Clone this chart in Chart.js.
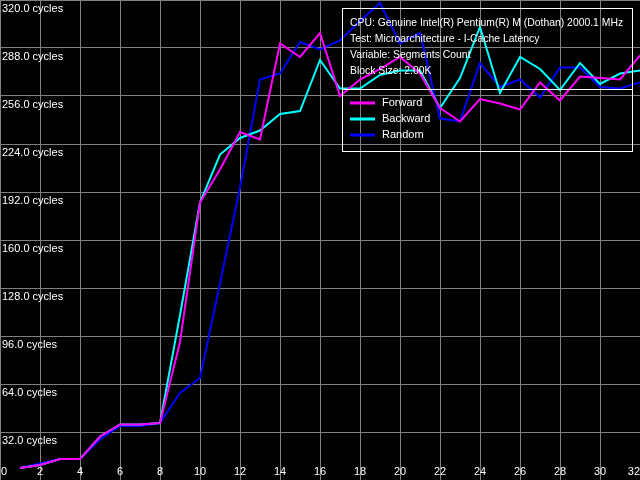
<!DOCTYPE html>
<html lang="en">
<head>
    <meta charset="UTF-8">
    <title>I-Cache Latency - Segments Count</title>
    <script src="https://cdn.jsdelivr.net/npm/chart.js"></script>
    <style>
        body {
            margin: 0;
            background-color: #000;
        }
        #chartBox {
            width: 640px;
            height: 480px;
        }
    </style>
</head>
<body>
    <div id="chartBox">
        <canvas id="latencyChart" width="640" height="480"></canvas>
    </div>

    <script>
        // segments count (x)
        const segments = [1, 2, 3, 4, 5, 6, 7, 8, 9, 10, 11, 12, 13, 14, 15, 16,
                          17, 18, 19, 20, 21, 22, 23, 24, 25, 26, 27, 28, 29, 30, 31, 32];

        // latency in cycles
        const forward = [8, 10, 14, 14, 29, 37, 37, 38, 92, 185, 207, 232, 227, 291, 282, 298,
                         256, 267, 274, 282, 271, 248, 239, 254, 251, 247, 265, 253, 269, 268, 267, 283];
        const backward = [8, 10, 14, 14, 29, 37, 37, 38, 110, 185, 217, 228, 233, 244, 246, 280,
                          261, 261, 270, 273, 273, 248, 268, 302, 258, 282, 274, 260, 278, 264, 271, 273];
        const random = [8, 11, 14, 14, 27, 36, 36, 38, 58, 68, 131, 195, 267, 271, 292, 287,
                        293, 306, 318, 291, 298, 241, 239, 278, 262, 267, 255, 275, 275, 262, 261, 265];

        const seriesNames = ['Forward', 'Backward', 'Random'];
        const seriesColors = ['#ff00ff', '#00ffff', '#0000ff'];

        const infoLines = [
            'CPU: Genuine Intel(R) Pentium(R) M (Dothan) 2000.1 MHz',
            'Test: Microarchitecture - I-Cache Latency',
            'Variable: Segments Count',
            'Block Size: 2.00K'
        ];

        const FAMILY = '"Liberation Sans", Arial, sans-serif';
        const FONT = '11px ' + FAMILY;

        function toPoints(values) {
            return values.map((v, i) => ({ x: segments[i], y: v }));
        }

        // x labels are drawn inside the plot, first one left, last one right
        const xLabelsPlugin = {
            id: 'xLabels',
            afterDraw(chart) {
                const ctx = chart.ctx;
                const xScale = chart.scales.x;
                const ticks = xScale.ticks;
                ctx.save();
                ctx.font = FONT;
                ctx.fillStyle = '#fff';
                ctx.textBaseline = 'middle';
                ticks.forEach((t, i) => {
                    const px = xScale.getPixelForValue(t.value);
                    if (i === 0) {
                        ctx.textAlign = 'left';
                        ctx.fillText(String(t.value), px + 1, 472);
                    } else if (i === ticks.length - 1) {
                        ctx.textAlign = 'right';
                        ctx.fillText(String(t.value), px, 472);
                    } else {
                        ctx.textAlign = 'center';
                        ctx.fillText(String(t.value), px, 472);
                    }
                });
                ctx.restore();
            }
        };

        // info box with legend
        const infoBoxPlugin = {
            id: 'infoBox',
            afterDraw(chart) {
                const ctx = chart.ctx;
                ctx.save();
                ctx.strokeStyle = '#fff';
                ctx.lineWidth = 1;
                ctx.strokeRect(342.5, 8.5, 290, 143);
                ctx.beginPath();
                ctx.moveTo(342, 89.5);
                ctx.lineTo(633, 89.5);
                ctx.stroke();

                ctx.font = '10.4px ' + FAMILY;
                ctx.fillStyle = '#fff';
                ctx.textAlign = 'left';
                ctx.textBaseline = 'middle';
                infoLines.forEach((line, i) => {
                    ctx.fillText(line, 350, 23 + i * 16);
                });

                ctx.font = FONT;
                chart.data.datasets.forEach((ds, i) => {
                    const y = 103 + i * 16;
                    ctx.strokeStyle = ds.borderColor;
                    ctx.lineWidth = 3;
                    ctx.beginPath();
                    ctx.moveTo(350, y);
                    ctx.lineTo(375, y);
                    ctx.stroke();
                    ctx.fillStyle = '#fff';
                    ctx.fillText(ds.label, 382, y);
                });
                ctx.restore();
            }
        };

        const ctx = document.getElementById('latencyChart').getContext('2d');
        const latencyChart = new Chart(ctx, {
            type: 'line',
            data: {
                datasets: [forward, backward, random].map((values, i) => ({
                    label: seriesNames[i],
                    data: toPoints(values),
                    borderColor: seriesColors[i],
                    borderWidth: 2,
                    pointRadius: 0,
                    tension: 0,
                    fill: false
                }))
            },
            options: {
                responsive: false,
                animation: false,
                layout: { padding: 0 },
                plugins: {
                    legend: { display: false },
                    tooltip: { enabled: false }
                },
                scales: {
                    x: {
                        type: 'linear',
                        min: 0,
                        max: 32,
                        ticks: { display: false, stepSize: 2 },
                        grid: { color: '#808080', drawTicks: false },
                        border: { display: false },
                        afterFit(scale) {
                            scale.height = 0;
                            scale.paddingLeft = 0;
                            scale.paddingRight = 0;
                        }
                    },
                    y: {
                        min: 0,
                        max: 320,
                        ticks: {
                            stepSize: 32,
                            mirror: true,
                            padding: 2,
                            labelOffset: 9,
                            color: '#fff',
                            font: { family: FAMILY, size: 11 },
                            callback: v => v === 0 ? '' : v.toFixed(1) + ' cycles'
                        },
                        grid: { color: '#808080', drawTicks: false },
                        border: { display: false },
                        afterFit(scale) {
                            scale.width = 0;
                            scale.paddingTop = 0;
                            scale.paddingBottom = 0;
                        }
                    }
                }
            },
            plugins: [xLabelsPlugin, infoBoxPlugin]
        });
    </script>
</body>
</html>
